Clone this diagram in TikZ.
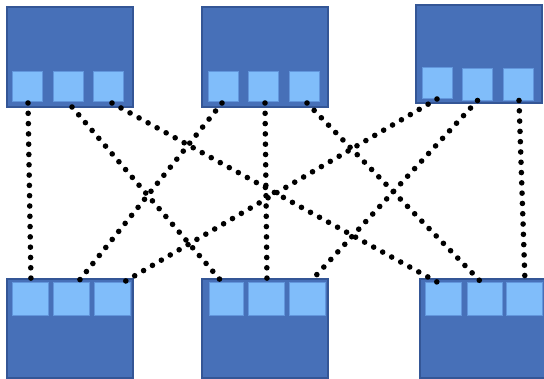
\documentclass[tikz,border=0pt]{standalone}
\begin{document}
\definecolor{boxfill}{RGB}{71,112,184}
\definecolor{boxline}{RGB}{52,86,150}
\definecolor{portfill}{RGB}{128,189,250}
\definecolor{portline}{RGB}{98,150,220}
\begin{tikzpicture}[x=1pt,y=-1pt,
  sw/.style={draw=boxline,fill=boxfill,line width=1.5pt,minimum width=126pt,inner sep=0pt,outer sep=0pt},
  port/.style={draw=portline,fill=portfill,line width=0.8pt,inner sep=0pt,outer sep=0pt},
  tport/.style={port,minimum width=30pt,minimum height=30pt},
  bport/.style={port,minimum width=36pt,minimum height=33pt},
  link/.style={line width=5.6pt,line cap=round,dash pattern=on 0pt off 10.3pt,black}]
\useasboundingbox (0,0) rectangle (544,379);
\clip (0,0) rectangle (544,379);
% top switches
\node[sw,minimum height=100pt] (t1) at (70,57) {};
\node[sw,minimum height=100pt] (t2) at (265,57) {};
\node[sw,minimum height=98pt] (t3) at (479,54) {};
% bottom switches
\node[sw,minimum height=99pt] (b1) at (70,328.5) {};
\node[sw,minimum height=99pt] (b2) at (265,328.5) {};
\node[sw,minimum height=99pt] (b3) at (483,328.5) {};
% top ports
\node[tport] (t1p1) at (27.5,86) {};
\node[tport] (t1p2) at (68,86) {};
\node[tport] (t1p3) at (108.5,86) {};
\node[tport] (t2p1) at (223.5,86) {};
\node[tport] (t2p2) at (263.5,86) {};
\node[tport] (t2p3) at (304.5,86) {};
\node[tport,minimum height=31pt] (t3p1) at (437.5,82.5) {};
\node[tport,minimum height=32pt] (t3p2) at (477.5,84) {};
\node[tport,minimum height=32pt] (t3p3) at (518,84) {};
% bottom ports
\node[bport] (b1p1) at (30.5,298.5) {};
\node[bport] (b1p2) at (71,298.5) {};
\node[bport] (b1p3) at (112,298.5) {};
\node[bport,minimum width=34pt] (b2p1) at (226,298.5) {};
\node[bport] (b2p2) at (266.5,298.5) {};
\node[bport] (b2p3) at (307.5,298.5) {};
\node[bport] (b3p1) at (443,298.5) {};
\node[bport,minimum width=35pt] (b3p2) at (484.5,298.5) {};
\node[bport] (b3p3) at (524,298.5) {};
% link end points
\coordinate (u11) at ([xshift=0.5pt,yshift=-2pt]t1p1.south);
\coordinate (u12) at ([xshift=4pt,yshift=-6pt]t1p2.south);
\coordinate (u13) at ([xshift=3.5pt,yshift=-2pt]t1p3.south);
\coordinate (u21) at ([xshift=-1.5pt,yshift=-2pt]t2p1.south);
\coordinate (u22) at ([xshift=1.5pt,yshift=-2pt]t2p2.south);
\coordinate (u23) at ([xshift=2.5pt,yshift=-2pt]t2p3.south);
\coordinate (u31) at ([xshift=-0.5pt,yshift=-1pt]t3p1.south);
\coordinate (u32) at ([yshift=-0.5pt]t3p2.south);
\coordinate (u33) at ([xshift=1pt,yshift=-0.5pt]t3p3.south);
\coordinate (l11) at ([xshift=0.5pt]b1p1.north);
\coordinate (l12) at ([xshift=7pt]b1p2.north);
\coordinate (l13) at ([xshift=12pt]b1p3.north);
\coordinate (l21) at ([xshift=-4pt]b2p1.north);
\coordinate (l22) at ([xshift=0.5pt]b2p2.north);
\coordinate (l23) at ([xshift=2.5pt]b2p3.north);
\coordinate (l31) at ([xshift=-6pt]b3p1.north);
\coordinate (l32) at ([xshift=-3.5pt]b3p2.north);
\coordinate (l33) at ([xshift=1pt]b3p3.north);
% links
\draw[link] (u11) -- (l11);
\draw[link] (u12) -- (l21);
\draw[link] (u13) -- (l31);
\draw[link] (u21) -- (l12);
\draw[link] (u22) -- (l22);
\draw[link] (u23) -- (l32);
\draw[link] (u31) -- (l13);
\draw[link] (u32) -- (l23);
\draw[link] (u33) -- (l33);
\end{tikzpicture}
\end{document}
